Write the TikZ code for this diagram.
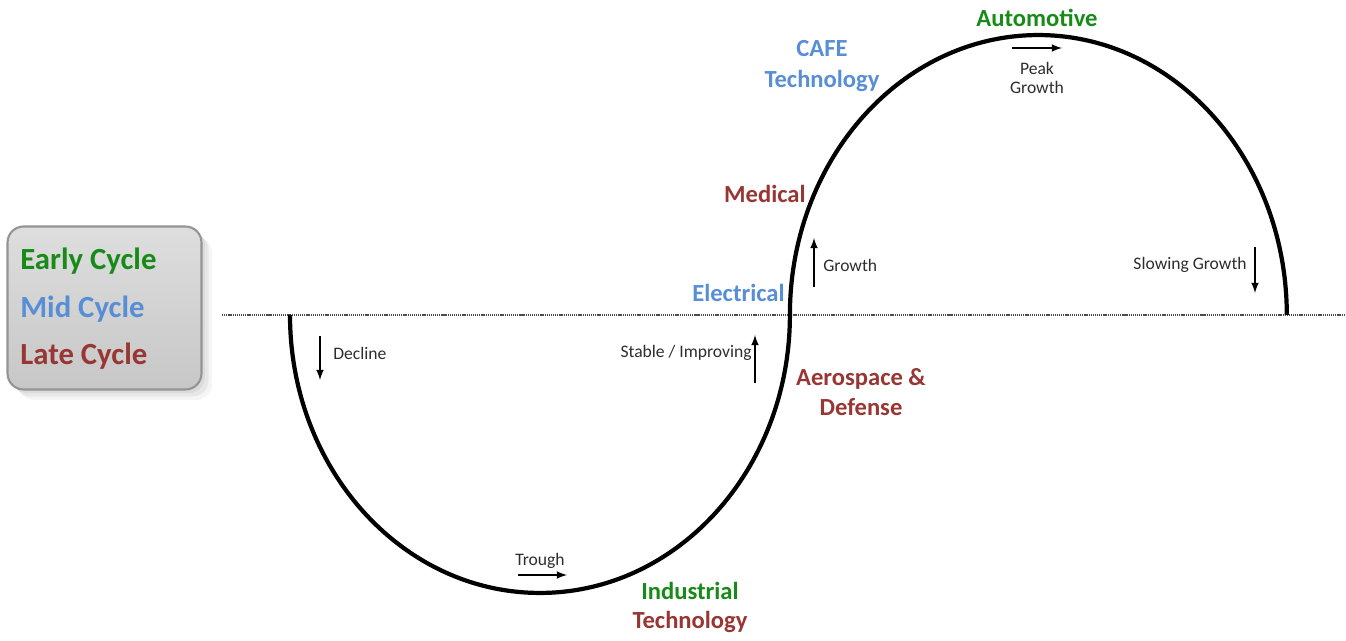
\documentclass[tikz,border=0pt]{standalone}
\usepackage{fontspec}
\setmainfont{Carlito}
\usetikzlibrary{shadows}
\definecolor{earlycol}{RGB}{24,138,24}
\definecolor{midcol}{RGB}{88,142,214}
\definecolor{latecol}{RGB}{152,54,52}
\definecolor{textgray}{RGB}{45,45,45}

\begin{document}
\begin{tikzpicture}[x=0.02cm,y=-0.02cm,
	sector/.style={font=\bfseries\fontsize{14}{17.5}\selectfont,align=center,inner sep=0pt},
	phase/.style={font=\fontsize{10}{11.3}\selectfont,text=textgray,align=center,inner sep=0pt},
	keytext/.style={font=\bfseries\fontsize{17.5}{21}\selectfont,inner sep=0pt,anchor=west},
	keybox/.style={draw=black!42,line width=1.2pt,rounded corners=0.32cm,top color=black!13,bottom color=black!22,
		drop shadow={shadow xshift=2pt,shadow yshift=-2pt,opacity=0.12},
		drop shadow={shadow xshift=4pt,shadow yshift=-4pt,opacity=0.12},
		drop shadow={shadow xshift=6pt,shadow yshift=-6pt,opacity=0.08}},
	trend/.style={-latex,line width=1pt,black},
	wave/.style={line width=2.4pt},
	zeroline/.style={line width=1.2pt,dash pattern=on 0.7pt off 0.5pt,black!70}]
	\useasboundingbox (0,0) rectangle (1346,641);
	\draw (104.5,308) node(key) [keybox,minimum width=3.88cm,minimum height=3.26cm] {};
	\draw (20,261) node(k1) [keytext,text=earlycol] {Early Cycle};
	\draw (20,309) node(k2) [keytext,text=midcol] {Mid Cycle};
	\draw (20,356) node(k3) [keytext,text=latecol] {Late Cycle};
	\coordinate (z0) at (222,315);
	\coordinate (z1) at (1346,315);
	\coordinate (c0) at (290,315);
	\path[draw,zeroline] (z0) -- (z1);
	\path[draw,wave] (c0) arc[start angle=180,end angle=360,x radius=5cm,y radius=5.56cm]
		arc[start angle=180,end angle=0,x radius=4.97cm,y radius=5.6cm];
	\draw (1037,18) node(auto) [sector,text=earlycol] {Automotive};
	\draw (822,66) node(cafe) [sector,text=midcol] {CAFE\\Technology};
	\draw (806,194) node(med) [sector,text=latecol,anchor=east] {Medical};
	\draw (785,293) node(elec) [sector,text=midcol,anchor=east] {Electrical};
	\draw (861,392) node(aero) [sector,text=latecol] {Aerospace \&\\Defense};
	\draw (690,591) node(ind1) [sector,text=earlycol] {Industrial};
	\draw (690,622) node(ind2) [sector,text=latecol] {Technology};
	\coordinate (d0) at (320,336);
	\coordinate (d1) at (320,380);
	\coordinate (t0) at (518,575);
	\coordinate (t1) at (567,575);
	\coordinate (s0) at (755,383);
	\coordinate (s1) at (755,335);
	\coordinate (g0) at (814,287);
	\coordinate (g1) at (814,238);
	\coordinate (p0) at (1012,48);
	\coordinate (p1) at (1062,48);
	\coordinate (w0) at (1255,247);
	\coordinate (w1) at (1255,293);
	\path[draw,trend] (d0) -- (d1);
	\path[draw,trend] (t0) -- (t1);
	\path[draw,trend] (s0) -- (s1);
	\path[draw,trend] (g0) -- (g1);
	\path[draw,trend] (p0) -- (p1);
	\path[draw,trend] (w0) -- (w1);
	\draw (333,353) node(dec) [phase,anchor=west] {Decline};
	\draw (540,561) node(tro) [phase] {Trough};
	\draw (752,353) node(stab) [phase,anchor=east] {Stable / Improving};
	\draw (823,265) node(gro) [phase,anchor=west] {Growth};
	\draw (1037,78) node(peak) [phase] {Peak\\Growth};
	\draw (1247,265) node(slow) [phase,anchor=east] {Slowing Growth};
\end{tikzpicture}
\end{document}
